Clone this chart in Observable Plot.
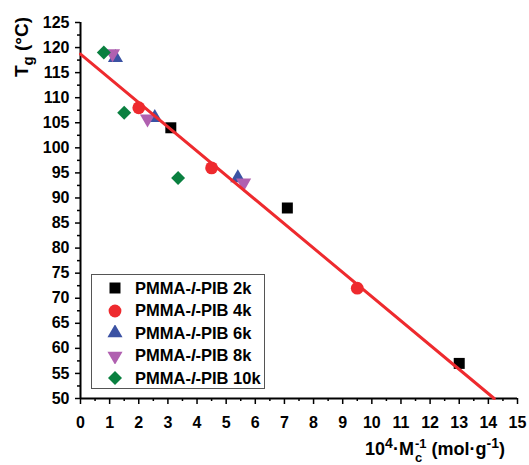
<!DOCTYPE html>
<html>
<head>
<meta charset="utf-8">
<script src="https://cdn.jsdelivr.net/npm/d3@7"></script>
<script src="https://cdn.jsdelivr.net/npm/@observablehq/plot@0.6"></script>
<style>
  body { margin: 0; background: #fff; }
  #wrap { position: relative; width: 529px; height: 465px; font-family: "Liberation Sans", Arial, sans-serif; font-weight: bold; color: #000; }
  #ytitle { position: absolute; left: 23px; top: 47px; transform: translate(-50%, -50%) rotate(-90deg); white-space: nowrap; font-size: 19px; line-height: 1; }
  #ytitle sub { font-size: 15px; vertical-align: -5px; }
  #xtitle { position: absolute; left: 435px; top: 436px; transform: translateX(-50%); white-space: nowrap; font-size: 18px; line-height: 1.1; }
  #xtitle sup { font-size: 14px; vertical-align: 7px; line-height: 1; }
  .ss { display: inline-flex; flex-direction: column; vertical-align: 7px; font-size: 13px; line-height: 1.1; margin-left: 1px; }
  #legend { position: absolute; left: 91px; top: 274px; width: 172px; height: 113px; border: 1px solid #555; background: #fff; }
  .row { position: absolute; left: 0; height: 22px; display: flex; align-items: center; font-size: 16.5px; white-space: nowrap; }
  .row svg { margin-left: 15px; margin-right: 12px; }
</style>
</head>
<body>
<div id="wrap">
  <div id="chart"></div>
  <div id="ytitle">T<sub>g</sub> (°C)</div>
  <div id="xtitle">10<sup>4</sup>·M<span class="ss"><span>-1</span><span>c</span></span> (mol·g<sup>-1</sup>)</div>
  <div id="legend"></div>
</div>
<script>
// Series (x = 10^4/Mc in mol/g, y = Tg in °C)
const seriesNames = ["PMMA-l-PIB 2k", "PMMA-l-PIB 4k", "PMMA-l-PIB 6k", "PMMA-l-PIB 8k", "PMMA-l-PIB 10k"];
const x2k = [3.1, 7.1, 13.0];   const y2k = [104, 88, 57];
const x4k = [2.0, 4.5, 9.5];    const y4k = [108, 96, 72];
const x6k = [1.2, 2.55, 5.4];   const y6k = [118, 106, 94];
const x8k = [1.1, 2.3, 5.6];    const y8k = [118.8, 105.8, 93];
const x10k = [0.8, 1.5, 3.35];  const y10k = [119, 107, 94];
// Linear fit line endpoints
const fitX = [0, 14.2];
const fitY = [118.7, 50];
// Axis ticks
const xTicks = [0,1,2,3,4,5,6,7,8,9,10,11,12,13,14,15];
const xMinor = [0.5,1.5,2.5,3.5,4.5,5.5,6.5,7.5,8.5,9.5,10.5,11.5,12.5,13.5,14.5];
const yTicks = [50,55,60,65,70,75,80,85,90,95,100,105,110,115,120,125];
const yMinor = [52.5,57.5,62.5,67.5,72.5,77.5,82.5,87.5,92.5,97.5,102.5,107.5,112.5,117.5,122.5];

const colors = ["#000000", "#ee2a2e", "#3b52a3", "#b060b0", "#0a8040"];
const symbols = ["square", "circle", "triangle", "triangle", "diamond2"];
const rotations = [0, 0, 0, 180, 0];
const radii = [6.2, 6.4, 5.6, 5.6, 6.3];
const xs = [x2k, x4k, x6k, x8k, x10k];
const ys = [y2k, y4k, y6k, y8k, y10k];

const red = "#ee2a2e";
const dotMarks = xs.map((xa, i) => Plot.dot(
  xa.map((x, j) => ({x, y: ys[i][j]})),
  {x: "x", y: "y", symbol: () => symbols[i], r: radii[i], fill: colors[i], stroke: "none", rotate: rotations[i]}
));

const chart = Plot.plot({
  width: 529, height: 465,
  marginLeft: 80, marginRight: 12, marginTop: 22, marginBottom: 67,
  x: {domain: [0, 15]},
  y: {domain: [50, 125]},
  style: {fontFamily: "'Liberation Sans', Arial, sans-serif", fontWeight: "bold", color: "#000", background: "transparent"},
  marks: [
    Plot.axisY({ticks: yTicks, tickSize: 5, tickPadding: 6, tickFormat: d => d, label: null, fontSize: 16, fontWeight: "bold", strokeWidth: 1.5, strokeOpacity: 1}),
    Plot.axisY({ticks: yMinor, tickSize: 3, text: null, label: null, strokeWidth: 1.5, strokeOpacity: 1}),
    Plot.axisX({ticks: xTicks, tickSize: 6, tickPadding: 12, tickFormat: d => d, label: null, fontSize: 16, fontWeight: "bold", strokeWidth: 1.5, strokeOpacity: 1}),
    Plot.axisX({ticks: xMinor, tickSize: 3, text: null, label: null, strokeWidth: 1.5, strokeOpacity: 1}),
    Plot.ruleX([0], {stroke: "#000", strokeWidth: 2}),
    Plot.ruleY([50], {stroke: "#000", strokeWidth: 2}),
    ...dotMarks,
    Plot.line(fitX.map((x, i) => ({x, y: fitY[i]})), {x: "x", y: "y", stroke: red, strokeWidth: 3})
  ]
});
document.getElementById("chart").appendChild(chart);

// Legend
const legend = document.getElementById("legend");
const symMap = {square: d3.symbolSquare, circle: d3.symbolCircle, triangle: d3.symbolTriangle, diamond2: d3.symbolDiamond2};
seriesNames.forEach((name, i) => {
  const row = document.createElement("div");
  row.className = "row";
  row.style.top = (2 + i * 22.5) + "px";
  const path = d3.symbol(symMap[symbols[i]], Math.PI * radii[i] * radii[i])();
  row.innerHTML = `<svg width="16" height="16" viewBox="-8 -8 16 16"><path d="${path}" fill="${colors[i]}" transform="rotate(${rotations[i]})"/></svg>`;
  const span = document.createElement("span");
  const parts = name.split("-l-");
  span.innerHTML = `${parts[0]}-<i>l</i>-${parts[1]}`;
  row.appendChild(span);
  legend.appendChild(row);
});
</script>
</body>
</html>
